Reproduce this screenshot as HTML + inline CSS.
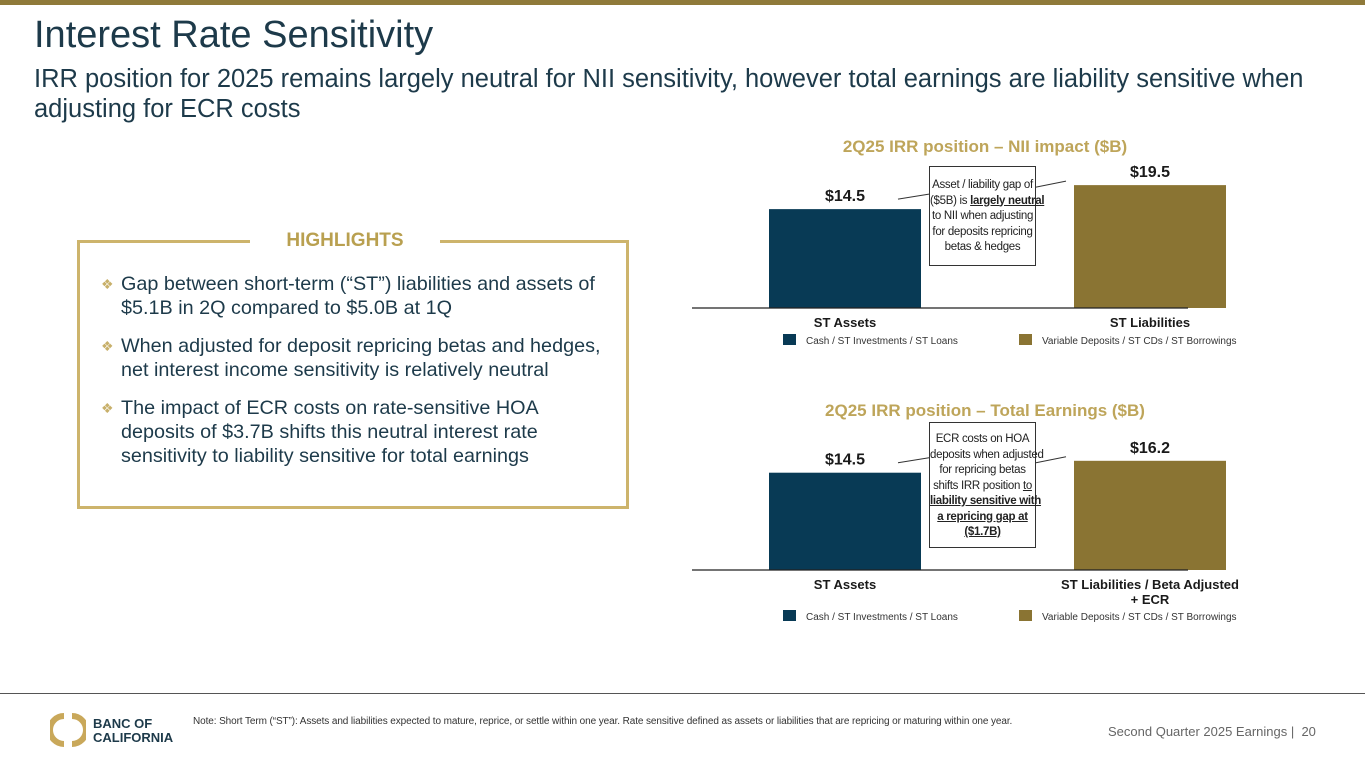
<!DOCTYPE html>
<html><head><meta charset="utf-8">
<style>
body{margin:0;width:1365px;height:768px;position:relative;background:#fff;font-family:"Liberation Sans",Arial,sans-serif;overflow:hidden}
.abs{position:absolute}
.hl p{margin:0 0 14px 0;padding-left:20px;position:relative}
.hl p:before{content:"❖";position:absolute;left:0;top:0;color:#c8b06a;font-size:14px}
.co{white-space:nowrap;font-size:11.5px;line-height:15.5px;letter-spacing:-0.3px}
</style></head><body>
<div class="abs" style="left:0;top:0;width:1365px;height:5px;background:#8f7a3a"></div>
<div class="abs" style="left:34px;top:14px;font-size:38px;color:#1d3a4a">Interest Rate Sensitivity</div>
<div class="abs" style="left:34px;top:64px;width:1320px;font-size:25.5px;line-height:30px;color:#1d3a4a">IRR position for 2025 remains largely neutral for NII sensitivity, however total earnings are liability sensitive when<br>adjusting for ECR costs</div>

<div class="abs" style="left:77px;top:240px;width:546px;height:263px;border:3px solid #cdb46c"></div>
<div class="abs" style="left:250px;top:230px;width:190px;background:#fff;text-align:center;font-size:19px;font-weight:bold;color:#b9a050">HIGHLIGHTS</div>
<div class="abs hl" style="left:101px;top:272px;width:520px;font-size:19.8px;line-height:24px;color:#1d3a4a">
<p>Gap between short-term (“ST”) liabilities and assets of<br>$5.1B in 2Q compared to $5.0B at 1Q</p>
<p>When adjusted for deposit repricing betas and hedges,<br>net interest income sensitivity is relatively neutral</p>
<p>The impact of ECR costs on rate-sensitive HOA<br>deposits of $3.7B shifts this neutral interest rate<br>sensitivity to liability sensitive for total earnings</p>
</div>

<svg class="abs" style="left:0;top:0" width="1365" height="768" id="charts"></svg>

<div class="abs co" style="left:929px;top:166px;width:107px;height:100px;border:1px solid #333;background:#fff;text-align:center;color:#222;padding-top:11px;box-sizing:border-box">Asset / liability gap of<br>($5B) is <b><u>largely neutral</u></b><br>to NII when adjusting<br>for deposits repricing<br>betas &amp; hedges</div>
<div class="abs co" style="left:929px;top:422px;width:107px;height:126px;border:1px solid #333;background:#fff;text-align:center;color:#222;padding-top:9px;box-sizing:border-box">ECR costs on HOA<br>deposits when adjusted<br>for repricing betas<br>shifts IRR position <u>to</u><br><b><u>liability sensitive with</u></b><br><b><u>a repricing gap at</u></b><br><b><u>($1.7B)</u></b></div>

<div class="abs" style="left:0;top:693px;width:1365px;height:1px;background:#555"></div>
<svg class="abs" style="left:50px;top:713px" width="36" height="34">
<path d="M14 3 A14 14 0 0 0 14 31" stroke="#c9a85a" stroke-width="6" fill="none"/>
<path d="M22 3 A14 14 0 0 1 22 31" stroke="#c9a85a" stroke-width="6" fill="none"/>
</svg>
<div class="abs" style="left:93px;top:717px;font-size:13px;font-weight:bold;line-height:14px;color:#1d3a4a">BANC OF<br>CALIFORNIA</div>
<div class="abs" style="left:193px;top:716px;font-size:10px;color:#333;white-space:nowrap;letter-spacing:-0.1px">Note: Short Term (“ST”): Assets and liabilities expected to mature, reprice, or settle within one year. Rate sensitive defined as assets or liabilities that are repricing or maturing within one year.</div>
<div class="abs" style="left:1108px;top:724px;font-size:13px;color:#666">Second Quarter 2025 Earnings |&nbsp; 20</div>

<script>
const categories1 = ["ST Assets","ST Liabilities"];
const values1 = [14.5, 19.5];
const labels1 = ["$14.5","$19.5"];
const categories2 = ["ST Assets","ST Liabilities /  Beta Adjusted|+ ECR"];
const values2 = [14.5, 16.2];
const labels2 = ["$14.5","$16.2"];
const legendLabels = ["Cash / ST Investments / ST Loans","Variable Deposits / ST CDs / ST Borrowings"];
const colors = ["#083a55","#8a7433"];
const svg = document.getElementById('charts');
const NS = 'http://www.w3.org/2000/svg';
function mk(tag, attrs){const e=document.createElementNS(NS,tag);for(const k in attrs)e.setAttribute(k,attrs[k]);svg.appendChild(e);return e;}
function chart(cfg, cats, vals, labs, prefix){
  const y = v => cfg.base - (v - cfg.d0) * cfg.k;
  const t = mk('text',{x:985,y:cfg.titleY,'text-anchor':'middle','font-size':17,'font-weight':'bold',fill:'#bea55a'});
  t.textContent = cfg.title;
  
  
  const xs=[845,1150];
  vals.forEach((v,i)=>{
    const r = mk('rect',{x:xs[i]-76,y:y(v),width:152,height:cfg.base-y(v),fill:colors[i]});
    
    
    const l = mk('text',{x:xs[i],y:y(v)-8,'text-anchor':'middle','font-size':16,'font-weight':'bold',fill:'#1a1a1a'});
    l.textContent = labs[i];
    
    
    cats[i].split('|').forEach((s,j)=>{
      const c = mk('text',{x:xs[i],y:cfg.base+19+j*15,'text-anchor':'middle','font-size':13,'font-weight':'bold',fill:'#1a1a1a'});
      c.textContent = s;
      
      
    });
    const lx=[783,1019][i];
    const sw = mk('rect',{x:lx,y:cfg.legY-6,width:13,height:11,fill:colors[i]});
    
    
    const lt = mk('text',{x:lx+23,y:cfg.legY+4,'font-size':10,fill:'#333'});
    lt.textContent = legendLabels[i];
    
    
  });
  const ax = mk('line',{x1:692,x2:1188,y1:cfg.base,y2:cfg.base,stroke:'#222','stroke-width':1.2});
  
  
  const c1 = mk('line',{x1:898,y1:y(vals[0])-10,x2:929,y2:y(vals[0])-15,stroke:'#333','stroke-width':1});
  
  
  const c2 = mk('line',{x1:1036,y1:y(vals[1])+2,x2:1066,y2:y(vals[1])-4,stroke:'#333','stroke-width':1});
  
  
}
chart({base:308,d0:-6.1,k:4.8,title:'2Q25 IRR position – NII impact ($B)',titleY:152,legY:340},categories1,values1,labels1,'nii');
chart({base:570,d0:0.6,k:7.0,title:'2Q25 IRR position – Total Earnings ($B)',titleY:416,legY:616},categories2,values2,labels2,'te');
</script>
</body></html>
